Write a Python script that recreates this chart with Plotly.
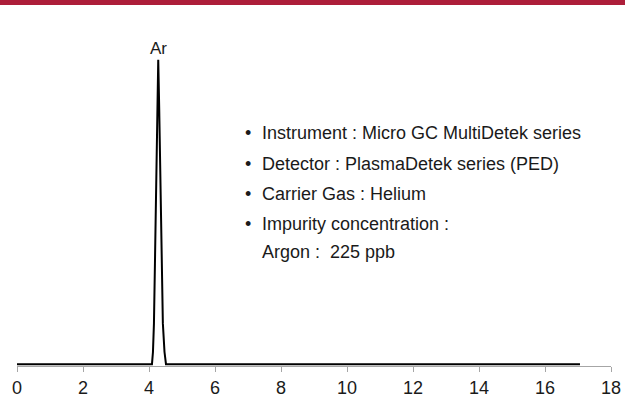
import plotly.graph_objects as go

# chromatogram (retention time in min, normalised signal)
time_min = [0, 4.09, 4.12, 4.15, 4.18, 4.227, 4.25, 4.28, 4.31, 4.333, 4.385, 4.42, 4.47, 4.515, 17.06]
signal = [0, 0, 0.04, 0.134, 0.33, 0.673, 0.837, 1.0, 0.837, 0.673, 0.33, 0.134, 0.04, 0, 0]

peak_name = "Ar"
peak_time = 4.28
peak_height = 1.0

x_ticks = [0, 2, 4, 6, 8, 10, 12, 14, 16, 18]

info_lines = [
    ("•", "Instrument : Micro GC MultiDetek series"),
    ("•", "Detector : PlasmaDetek series (PED)"),
    ("•", "Carrier Gas : Helium"),
    ("•", "Impurity concentration :"),
    ("", "Argon :  225 ppb"),
]
info_y_px = [133, 164, 194, 224, 252]

W, H = 625, 398
ml, mr, mt, mb = 17, 14, 30, 32
pw, ph = W - ml - mr, H - mt - mb


def px(x):
    return (x - ml) / pw


def py(y):
    return (H - mb - y) / ph


font = "Liberation Sans"
txt = "#1a1a1a"

fig = go.Figure()
fig.add_trace(go.Scatter(
    x=time_min, y=signal, mode="lines",
    line=dict(color="black", width=2), hoverinfo="skip",
))

fig.add_annotation(
    x=peak_time, y=peak_height, xref="x", yref="y", text=peak_name,
    showarrow=False, yanchor="bottom", yshift=0,
    font=dict(family=font, size=17, color=txt),
)

for (b, t), ypx in zip(info_lines, info_y_px):
    if b:
        fig.add_annotation(
            x=px(248), y=py(ypx), xref="paper", yref="paper", text=b,
            showarrow=False, xanchor="center", yanchor="middle",
            font=dict(family=font, size=18, color=txt),
        )
    fig.add_annotation(
        x=px(260), y=py(ypx), xref="paper", yref="paper", text=t,
        showarrow=False, xanchor="left", yanchor="middle",
        font=dict(family=font, size=18, color=txt),
    )

# red band along the top edge
fig.add_shape(
    type="rect", xref="paper", yref="paper",
    x0=px(-2), x1=px(W + 2), y0=py(5), y1=py(-2),
    fillcolor="#ad1e3a", line=dict(width=0), layer="above",
)

fig.update_layout(
    width=W, height=H,
    margin=dict(l=ml, r=mr, t=mt, b=mb, autoexpand=False),
    plot_bgcolor="white", paper_bgcolor="white",
    showlegend=False,
    font=dict(family=font, size=17, color=txt),
)
fig.update_xaxes(
    range=[0, 18], tickvals=x_ticks, showgrid=False, zeroline=False,
    showline=True, linecolor="#a6a6a6", linewidth=1,
    ticks="outside", ticklen=5, tickcolor="#a6a6a6",
    tickfont=dict(family=font, size=18, color=txt),
    automargin=False,
)
fig.update_yaxes(range=[-0.006, ph / 306], visible=False, automargin=False)

fig.write_html(
    "out.html",
    config={"displayModeBar": False},
    post_script="document.body.style.margin='0';",
)
